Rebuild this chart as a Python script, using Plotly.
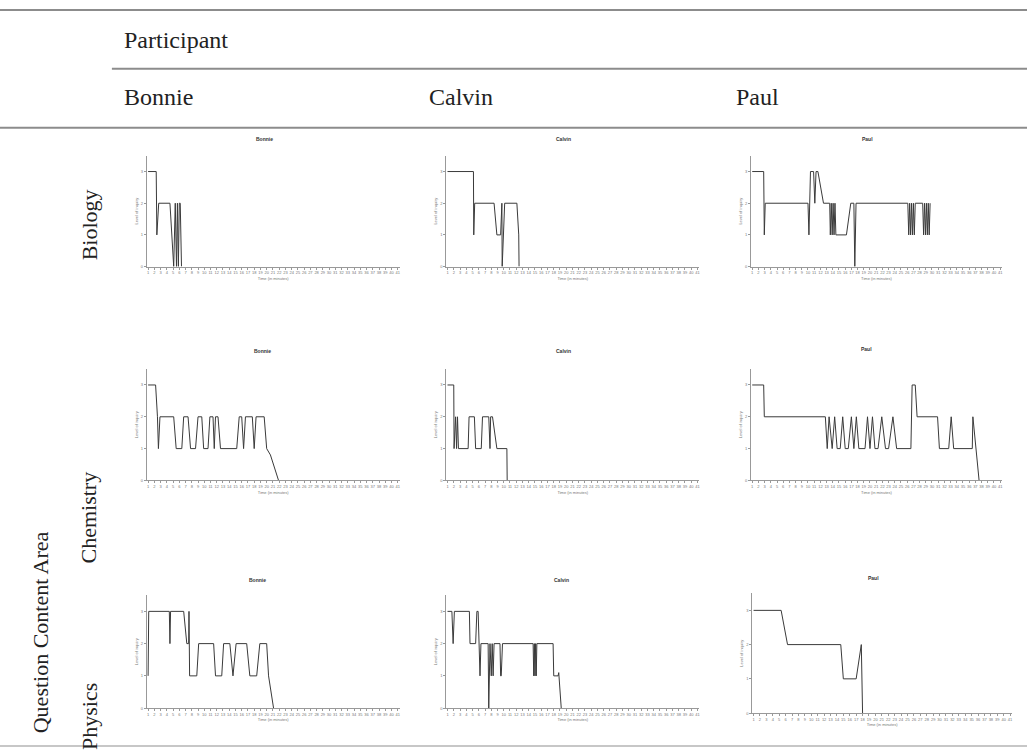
import plotly.graph_objects as go

# ---------------- data ----------------
participants = ["Bonnie", "Calvin", "Paul"]
areas = ["Biology", "Chemistry", "Physics"]

bonnie_bio_t = [0, 1.3, 1.4, 1.7, 3.5, 3.8, 4.1, 4.35, 4.55, 4.7, 4.85, 5.0, 5.15, 5.35]
bonnie_bio_y = [3, 3, 1, 2, 2, 1, 0, 2, 0, 2, 0, 2, 2, 0]

calvin_bio_t = [0, 4.15, 4.2, 4.35, 7.45, 7.9, 8.5, 8.7, 8.75, 9.15, 11.1, 11.4, 11.45]
calvin_bio_y = [3, 3, 1, 2, 2, 1, 1, 2, 0, 2, 2, 1, 0]

paul_bio_t = [0, 1.85, 1.95, 2.1, 9.0, 9.15, 9.4, 9.9, 10.1, 10.3, 10.6, 11.5,
              12.5, 12.6, 12.75, 12.9, 13.05, 13.2, 13.35, 13.5, 15.2, 15.9, 16.4, 16.55, 16.75,
              25.1, 25.25, 25.4, 25.55, 25.7, 25.85, 26.0, 26.15, 26.3,
              27.5, 27.65, 27.8, 27.95, 28.1, 28.25, 28.4, 28.55, 28.7]
paul_bio_y = [3, 3, 1, 2, 2, 1, 3, 3, 2, 3, 3, 2,
              2, 1, 2, 1, 2, 1, 2, 1, 1, 2, 2, 0, 2,
              2, 1, 2, 1, 2, 1, 2, 1, 2,
              2, 1, 2, 1, 2, 1, 2, 1, 2]

bonnie_chem_t = [0, 1.2, 1.5, 1.65, 1.9, 4.1, 4.5, 5.4, 5.7, 6.4, 6.8, 7.6, 8.0, 8.6, 8.9, 9.6, 9.9,
                 10.4, 10.6, 10.8, 11.2, 11.6, 14.2, 14.6, 15.0, 15.3, 15.6, 16.7, 17.0, 17.3,
                 18.6, 19.0, 19.6, 20.3, 20.9]
bonnie_chem_y = [3, 3, 2, 1, 2, 2, 1, 1, 2, 2, 1, 1, 2, 2, 1, 1, 2,
                 2, 1, 2, 2, 1, 1, 2, 2, 1, 2, 2, 1, 2,
                 2, 1, 0.8, 0.4, 0]

calvin_chem_t = [0, 1.0, 1.05, 1.3, 1.45, 1.6, 1.75, 3.3, 3.45, 4.3, 4.5, 5.4, 5.6, 6.6, 6.8, 6.9,
                 7.2, 7.9, 9.5, 9.55]
calvin_chem_y = [3, 3, 1, 2, 1, 2, 1, 1, 2, 2, 1, 1, 2, 2, 1, 2,
                 2, 1, 1, 0]

paul_chem_t = [0, 1.85, 1.95, 11.8, 12.1, 12.4, 12.9, 13.3, 13.7, 14.2, 14.6, 15.0, 15.5, 16.0,
               16.4, 16.8, 17.2, 18.2, 18.6, 19.0, 19.4, 19.8, 20.3, 20.9, 21.5, 22.0, 22.7,
               23.3, 25.6, 25.8, 26.3, 26.6, 29.9, 30.2, 31.7, 32.1, 32.5, 35.5, 35.6, 36.6]
paul_chem_y = [3, 3, 2, 2, 1, 2, 1, 2, 1, 1, 2, 1, 1, 2,
               1, 2, 1, 1, 2, 1, 2, 1, 1, 2, 1, 1, 2,
               1, 1, 3, 3, 2, 2, 1, 1, 2, 1, 1, 2, 0]

bonnie_phys_t = [0, 0.1, 3.4, 3.5, 3.6, 5.7, 6.2, 6.5, 6.55, 6.65, 7.8, 8.1, 10.5, 10.8, 11.8,
                 12.1, 13.1, 13.6, 14.1, 15.8, 16.3, 17.4, 17.9, 19.0, 19.3, 20.1]
bonnie_phys_y = [1, 3, 3, 2, 3, 3, 2, 2, 3, 1, 1, 2, 2, 1, 1,
                 2, 2, 1, 2, 2, 1, 1, 2, 2, 1, 0]

calvin_phys_t = [0, 0.7, 0.9, 1.1, 3.5, 3.6, 4.5, 4.7, 4.9, 5.1, 5.2, 5.35, 6.5, 6.6, 6.8, 7.0,
                 7.15, 7.3, 7.45, 7.6, 8.4, 8.5, 8.6, 8.8, 13.7, 13.8, 13.9, 14.0, 14.1, 14.2,
                 14.3, 16.9, 17.0, 17.7, 17.8, 18.2]
calvin_phys_y = [3, 3, 2, 3, 3, 2, 2, 3, 3, 2, 1, 2, 2, 0, 2, 1,
                 2, 1, 2, 2, 2, 1, 1, 2, 2, 1, 2, 1, 2, 1,
                 2, 2, 1, 1, 1.1, 0]

paul_phys_t = [0, 4.3, 5.3, 13.6, 14.0, 16.0, 16.8, 17.0]
paul_phys_y = [3, 3, 2, 2, 1, 1, 2, 0]

x_tick_vals = list(range(0, 41))
x_tick_text = [str(v) for v in range(1, 42)]
y_tick_vals = [0, 1, 2, 3]
x_title = "Time (in minutes)"
y_title = "Level of inquiry"

series = [
    [(bonnie_bio_t, bonnie_bio_y), (calvin_bio_t, calvin_bio_y), (paul_bio_t, paul_bio_y)],
    [(bonnie_chem_t, bonnie_chem_y), (calvin_chem_t, calvin_chem_y), (paul_chem_t, paul_chem_y)],
    [(bonnie_phys_t, bonnie_phys_y), (calvin_phys_t, calvin_phys_y), (paul_phys_t, paul_phys_y)],
]

# ---------------- layout helpers ----------------
W, H = 1028, 750


def fx(v):
    return v / W


def fy(v):
    return 1 - v / H


col_px = [(147, 400), (446.7, 700), (751.7, 1003)]
row_px = [(267.3, 172), (481.7, 386), (710, 613)]   # (y of 0, y of 3)
override = {(2, 2): ((753, 1013), (715, 612))}
title_px = {
    (0, 0): (265, 139), (0, 1): (564, 139), (0, 2): (868, 139),
    (1, 0): (263, 352), (1, 1): (564, 352), (1, 2): (867, 350),
    (2, 0): (258, 582), (2, 1): (562, 582), (2, 2): (874, 580),
}
Y_MAX = 3.5

fig = go.Figure()
layout = dict()
annotations = []

idx = 0
for r in range(3):
    for c in range(3):
        idx += 1
        t, y = series[r][c]
        (x0, x1), (y0, y3) = override.get((r, c), (col_px[c], row_px[r]))
        ytop = y0 - (y0 - y3) * Y_MAX / 3.0
        sfx = "" if idx == 1 else str(idx)
        fig.add_trace(go.Scatter(
            x=t, y=y, mode="lines",
            line=dict(color="#3a3a3a", width=1),
            xaxis="x" + sfx, yaxis="y" + sfx,
            showlegend=False, hoverinfo="skip"))
        layout["xaxis" + sfx] = dict(
            domain=[fx(x0), fx(x1)], anchor="y" + sfx,
            range=[-0.2, 40.3], tickmode="array",
            tickvals=x_tick_vals, ticktext=x_tick_text,
            tickfont=dict(size=4, color="#777", family="Liberation Sans"),
            ticks="outside", ticklen=2, tickcolor="#999", tickwidth=1,
            showline=True, linecolor="#999", linewidth=1,
            showgrid=False, zeroline=False, tickangle=0,
            title=dict(text=x_title, font=dict(size=4, color="#777", family="Liberation Sans"),
                       standoff=2),
        )
        layout["yaxis" + sfx] = dict(
            domain=[fy(y0), fy(ytop)], anchor="x" + sfx,
            range=[0, Y_MAX], tickmode="array", tickvals=y_tick_vals,
            tickfont=dict(size=4, color="#777", family="Liberation Sans"),
            ticks="outside", ticklen=2, tickcolor="#999", tickwidth=1,
            showline=True, linecolor="#999", linewidth=1,
            showgrid=False, zeroline=False,
            title=dict(text=y_title, font=dict(size=4, color="#777", family="Liberation Sans"),
                       standoff=2),
        )
        tx, ty = title_px[(r, c)]
        annotations.append(dict(
            x=fx(tx), y=fy(ty), xref="paper", yref="paper", showarrow=False,
            text="<b>" + participants[c] + "</b>", xanchor="center", yanchor="middle",
            font=dict(size=5, color="#333", family="Liberation Sans")))

serif = "Liberation Serif, Times New Roman, serif"
# header texts
annotations.append(dict(x=fx(122), y=fy(40), xref="paper", yref="paper", showarrow=False,
                        text="Participant", xanchor="left", yanchor="middle",
                        font=dict(size=24, color="#222", family=serif)))
for name, xl in zip(participants, [122, 427, 735]):
    annotations.append(dict(x=fx(xl), y=fy(97), xref="paper", yref="paper", showarrow=False,
                            text=name, xanchor="left", yanchor="middle",
                            font=dict(size=24, color="#222", family=serif)))
# row labels
for name, yc in zip(areas, [225, 519, 718]):
    annotations.append(dict(x=fx(89), y=fy(yc), xref="paper", yref="paper", showarrow=False,
                            text=name, textangle=-90, xanchor="center", yanchor="middle",
                            font=dict(size=22, color="#222", family=serif)))
annotations.append(dict(x=fx(40), y=fy(634), xref="paper", yref="paper", showarrow=False,
                        text="Question Content Area", textangle=-90,
                        xanchor="center", yanchor="middle",
                        font=dict(size=22, color="#222", family=serif)))

rule = dict(color="#8c8c8c", width=2)
shapes = [
    dict(type="line", xref="paper", yref="paper", x0=0, x1=1, y0=fy(10), y1=fy(10), line=rule),
    dict(type="line", xref="paper", yref="paper", x0=fx(112), x1=1, y0=fy(69), y1=fy(69), line=rule),
    dict(type="line", xref="paper", yref="paper", x0=0, x1=1, y0=fy(128), y1=fy(128), line=rule),
    dict(type="line", xref="paper", yref="paper", x0=0, x1=1, y0=fy(748), y1=fy(748),
         line=dict(color="#b5b5b5", width=1.5)),
]

fig.update_layout(
    width=W, height=H, autosize=False,
    margin=dict(l=0, r=0, t=0, b=0),
    paper_bgcolor="white", plot_bgcolor="white",
    annotations=annotations, shapes=shapes,
    **layout,
)

fig.write_html("out.html", config={"displayModeBar": False},
               post_script="document.body.style.margin='0';")
